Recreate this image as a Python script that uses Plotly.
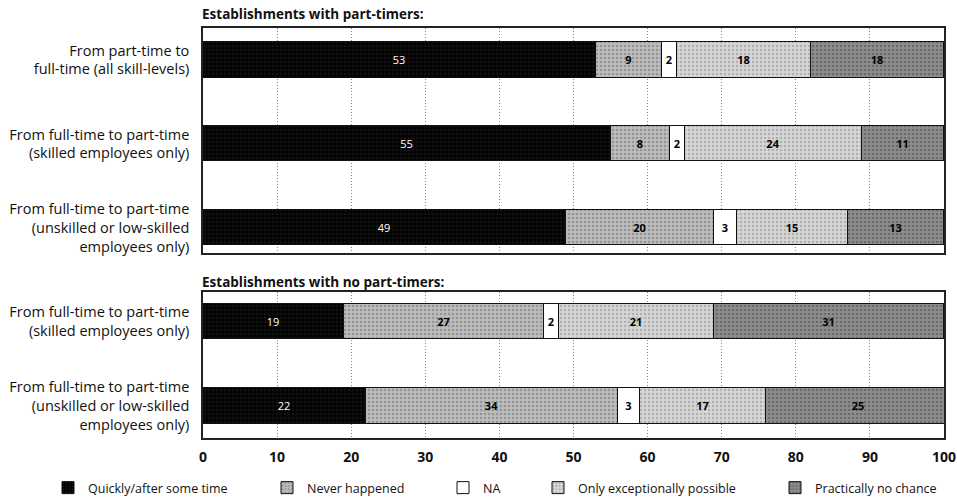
import plotly.graph_objects as go

# Categories (one per horizontal bar), top-to-bottom order
cats_with = [
    "From part-time to<br>full-time (all skill-levels)",
    "From full-time to part-time<br>(skilled employees only)",
    "From full-time to part-time<br>(unskilled or low-skilled<br>employees only)",
]
cats_without = [
    "From full-time to part-time<br>(skilled employees only)",
    "From full-time to part-time<br>(unskilled or low-skilled<br>employees only)",
]

series_names = [
    "Quickly/after some time",
    "Never happened",
    "NA",
    "Only exceptionally possible",
    "Practically no chance",
]

# Percent shares, establishments with part-timers
quickly_with = [53, 55, 49]
never_with = [9, 8, 20]
na_with = [2, 2, 3]
exceptional_with = [18, 24, 15]
nochance_with = [18, 11, 13]

# Percent shares, establishments with no part-timers
quickly_without = [19, 22]
never_without = [27, 34]
na_without = [2, 3]
exceptional_without = [21, 17]
nochance_without = [31, 25]

x_ticks = [0, 10, 20, 30, 40, 50, 60, 70, 80, 90, 100]

values_with = [quickly_with, never_with, na_with, exceptional_with, nochance_with]
values_without = [quickly_without, never_without, na_without,
                  exceptional_without, nochance_without]

styles = [
    dict(bg="#050505", fg="#3a3a3a", shape=".", solidity=0.15, txt="white"),
    dict(bg="#bdbdbd", fg="#6e6e6e", shape=".", solidity=0.35, txt="black"),
    dict(bg="#ffffff", fg="#ffffff", shape="", solidity=0.2, txt="black"),
    dict(bg="#d6d6d6", fg="#8a8a8a", shape=".", solidity=0.3, txt="black"),
    dict(bg="#8e8e8e", fg="#444444", shape=".", solidity=0.35, txt="black"),
]

FONT = "Open Sans"
W, H = 957, 499


def px_x(p):
    return p / W


def px_y(p):
    return 1 - p / H


fig = go.Figure()

for i, name in enumerate(series_names):
    st = styles[i]
    for panel, (cats, vals, yax) in enumerate(
        [(cats_with, values_with[i], "y"), (cats_without, values_without[i], "y2")]
    ):
        fig.add_trace(go.Bar(
            orientation="h",
            x=vals,
            y=cats,
            name=name,
            yaxis=yax,
            xaxis="x" if panel == 0 else "x2",
            width=0.42,
            text=[str(v) for v in vals],
            textposition="inside",
            insidetextanchor="middle",
            textangle=0,
            constraintext="none",
            textfont=dict(family=FONT, size=11, color=st["txt"],
                          weight="bold" if i > 0 else "normal"),
            marker=dict(
                color=st["bg"],
                line=dict(color="#111111", width=1),
                pattern=dict(shape=st["shape"], fgcolor=st["fg"], bgcolor=st["bg"],
                             size=4, solidity=st["solidity"]),
            ),
            legendgroup=name,
            showlegend=(panel == 0),
            legend="legend" if i == 0 else f"legend{i + 1}",
            hoverinfo="skip",
        ))

x_dom = [px_x(203), px_x(944)]
axis_common = dict(
    range=[0, 100],
    tickvals=x_ticks,
    showgrid=True,
    gridcolor="#8a8a8a",
    griddash="1px,2px",
    gridwidth=1,
    showline=True,
    linecolor="#222222",
    linewidth=1.5,
    mirror=True,
    zeroline=False,
    fixedrange=True,
    automargin=False,
)

legend_text_x = [88, 307, 483, 578, 815]
legend_layout = {}
for i, tx in enumerate(legend_text_x):
    key = "legend" if i == 0 else f"legend{i + 1}"
    legend_layout[key] = dict(
        x=px_x(tx - 40), y=px_y(488), xanchor="left", yanchor="middle",
        orientation="h", itemwidth=30, bgcolor="rgba(0,0,0,0)",
        font=dict(family=FONT, size=12.5, color="#111111"),
        traceorder="normal",
    )

ytick_font = dict(family=FONT, size=14.5, color="#111111")

fig.update_layout(
    width=W, height=H,
    margin=dict(l=0, r=0, t=0, b=0, autoexpand=False),
    paper_bgcolor="white",
    plot_bgcolor="white",
    barmode="stack",
    bargap=0,
    font=dict(family=FONT, color="#111111"),
    xaxis=dict(domain=x_dom, anchor="y", showticklabels=False, ticks="", **axis_common),
    xaxis2=dict(domain=x_dom, anchor="y2", showticklabels=True, ticks="",
                ticklabelstandoff=5,
                tickfont=dict(family=FONT, size=14, color="#111111", weight="bold"),
                **axis_common),
    yaxis=dict(domain=[px_y(253), px_y(28)], anchor="x", type="category",
               range=[2.30, -0.38], showline=True, linecolor="#222222",
               linewidth=1.5, mirror=True, showgrid=False, ticks="",
               ticklabelstandoff=9, fixedrange=True, automargin=False,
               tickfont=ytick_font),
    yaxis2=dict(domain=[px_y(438), px_y(292)], anchor="x2", type="category",
                range=[1.38, -0.35], showline=True, linecolor="#222222",
                linewidth=1.5, mirror=True, showgrid=False, ticks="",
                ticklabelstandoff=9, fixedrange=True, automargin=False,
                tickfont=ytick_font),
    annotations=[
        dict(text="<b>Establishments with part-timers:</b>", xref="paper", yref="paper",
             x=px_x(200), y=px_y(14), xanchor="left", yanchor="middle",
             showarrow=False, font=dict(family=FONT, size=13.5, color="#111111")),
        dict(text="<b>Establishments with no part-timers:</b>", xref="paper", yref="paper",
             x=px_x(200), y=px_y(282), xanchor="left", yanchor="middle",
             showarrow=False, font=dict(family=FONT, size=13.5, color="#111111")),
    ],
    **legend_layout,
)

fig.write_html("out.html")
